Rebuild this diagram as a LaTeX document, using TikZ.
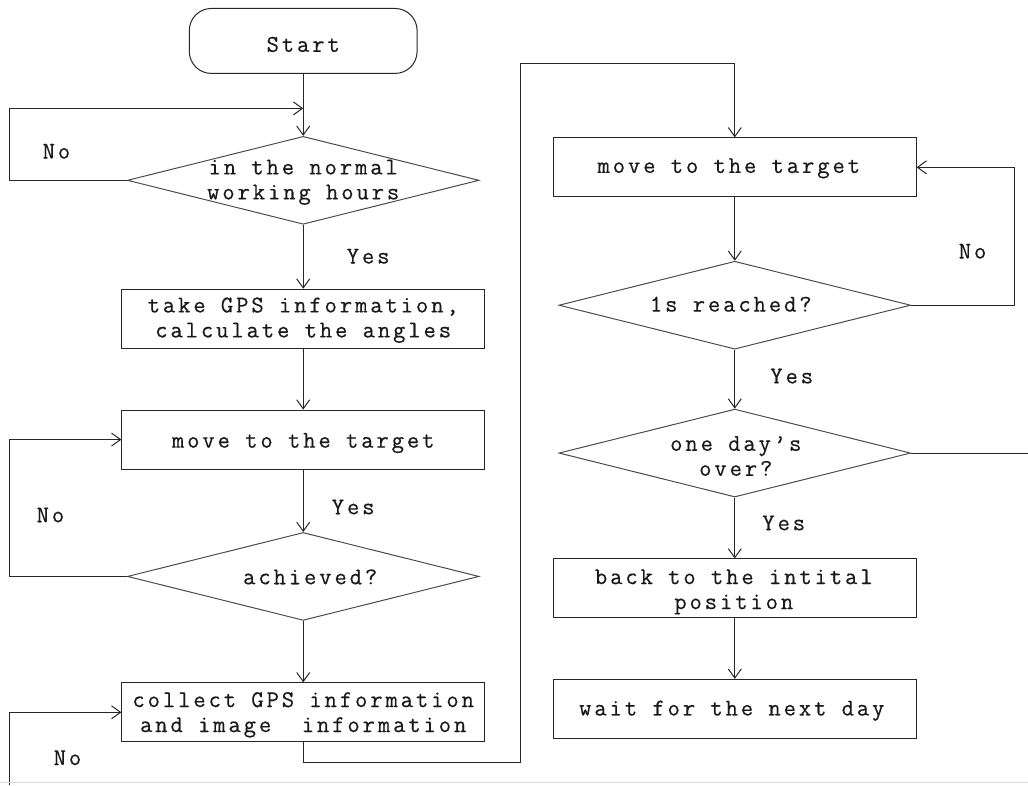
\documentclass[tikz,border=0pt]{standalone}
\usepackage{fontspec}
\newfontfamily\flowfont[LetterSpace=12,FakeBold=0.4]{Latin Modern Mono}
\usetikzlibrary{shapes.geometric,arrows.meta}
\begin{document}
\begin{tikzpicture}[x=1pt,y=-1pt,
  every path/.style={line width=1pt, draw=black!85},
  txt/.style={font=\flowfont\fontsize{24}{25}\selectfont, align=center, inner sep=0pt, text=black!90},
  lbl/.style={font=\flowfont\fontsize{24}{25}\selectfont, inner sep=0pt, text=black!90},
  procbox/.style={draw, rectangle, minimum width=363pt, minimum height=59pt, inner sep=0pt},
  startbox/.style={draw, rectangle, rounded corners=22pt, minimum width=228pt, minimum height=65pt, inner sep=0pt},
  decision/.style={draw=black!70, diamond, minimum width=352pt, minimum height=88pt, inner sep=0pt},
  arr/.style={-{Straight Barb[length=9pt,width=13pt,line width=1pt]}}
]
\useasboundingbox (0,0) rectangle (1028,785);
\fill[white] (0,0) rectangle (1028,785);

% left column
\node[startbox] (start) at (303,40.5) {};
\node[txt] (startt) at (303,44) {Start};
\node[decision] (d1) at (303,180) {};
\node[txt] (d1t) at (303,182) {in the normal\\working hours};
\node[procbox] (take) at (303,318.5) {};
\node[txt] (taket) at (303,320) {take GPS information,\\calculate the angles};
\node[procbox] (movel) at (303,439.5) {};
\node[txt] (movelt) at (303,443) {move to the target};
\node[decision] (ach) at (303,576.5) {};
\node[txt] (acht) at (310,577) {achieved?};
\node[procbox] (coll) at (303,712.5) {};
\node[txt] (collt) at (303,715) {collect GPS information\\and image\ \ information};

% right column
\node[procbox] (mover) at (735,167) {};
\node[txt] (movert) at (729,168) {move to the target};
\node[decision] (reach) at (735,305) {};
\node[txt] (reacht) at (731,304) {1s reached?};
\node[decision] (day) at (735,453) {};
\node[txt] (dayt) at (736,456) {one day’s\\over?};
\node[procbox] (back) at (735,588.5) {};
\node[txt] (backt) at (734,592) {back to the intital\\position};
\node[procbox] (wait) at (735,709) {};
\node[txt] (waitt) at (732,711) {wait for the next day};

% labels
\node[lbl] (no1) at (56,151) {No};
\node[lbl] (yes1) at (368,256) {Yes};
\node[lbl] (yes2) at (353,507) {Yes};
\node[lbl] (no2) at (50,515) {No};
\node[lbl] (no3) at (67,758) {No};
\node[lbl] (no4) at (973,251) {No};
\node[lbl] (yes3) at (792,376) {Yes};
\node[lbl] (yes4) at (784,523) {Yes};

% coordinates
\coordinate (j1) at (303,108);
\coordinate (l1) at (9,108);
\coordinate (l2) at (9,439.5);
\coordinate (l3) at (9,785);
\coordinate (c1) at (521,763);
\coordinate (c2) at (521,63);
\coordinate (r1) at (1015,235);
\coordinate (e1) at (1028,453);

% connectors
\draw[arr] (start) -- (d1);
\draw[arr] (d1.west) -| (l1) -- (j1);
\draw[arr] (d1) -- (take);
\draw[arr] (take) -- (movel);
\draw[arr] (movel) -- (ach);
\draw[arr] (ach.west) -| (l2) -- (movel.west);
\draw[arr] (ach) -- (coll);
\draw[arr] (l3) |- (coll.west);
\draw[arr] (coll.south) |- (c1) -- (c2) -| (mover.north);
\draw[arr] (mover) -- (reach);
\draw[arr] (reach.east) -| (r1) |- (mover.east);
\draw[arr] (reach) -- (day);
\draw (day.east) -- (e1);
\draw[arr] (day) -- (back);
\draw[arr] (back) -- (wait);

% page edge
\draw[draw=black!15] (0,783) -- (1028,783);
\end{tikzpicture}
\end{document}
